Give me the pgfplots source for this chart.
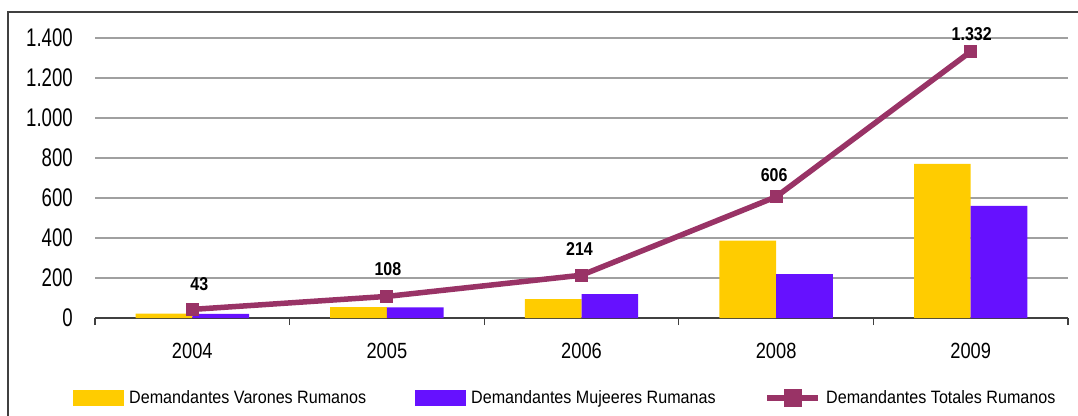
\documentclass[border=0pt]{standalone}
\usepackage{fontspec}
\usepackage{pgfplots}
\pgfplotsset{compat=1.18}
\setmainfont{Liberation Sans}
\newfontfamily\yf{Liberation Sans}[FakeStretch=0.73]
\newfontfamily\xf{Liberation Sans}[FakeStretch=0.83]
\newfontfamily\lf{Liberation Sans}[FakeStretch=0.90]
\newfontfamily\df{Liberation Sans}[FakeStretch=0.86]
\newcommand\yfont{\yf\fontsize{25.5}{30}\selectfont}
\newcommand\xfont{\xf\fontsize{22}{26}\selectfont}
\newcommand\lfont{\lf\fontsize{17.9}{21}\selectfont}
\newcommand\dfont{\df\bfseries\fontsize{18.6}{22}\selectfont}

\definecolor{cyel}{HTML}{FFCC00}
\definecolor{cpur}{HTML}{6611FF}
\definecolor{cline}{HTML}{993366}
\definecolor{cgrid}{HTML}{A0A0A0}
\definecolor{cframe}{HTML}{404040}

% year index, men, women
\pgfplotstableread{
x men women
0 22 21
1 55 53
2 95 119
3 387 219
4 771 561
}\bars
% year index, total, label offsets
\pgfplotstableread{
x total dx dy
0 43 7 19
1 108 1 21
2 214 -2 20
3 606 -2 15
4 1332 1 11
}\totals

\begin{document}
\begin{tikzpicture}
\useasboundingbox (0pt,0pt) rectangle (1078pt,415pt);
\begin{axis}[
  scale only axis,
  width=973pt, height=280pt,
  at={(95pt,97pt)}, anchor=south west,
  xmin=-0.5, xmax=4.5,
  ymin=0, ymax=1400,
  axis x line=bottom,
  axis y line=left,
  y axis line style={draw=none},
  x axis line style={-, draw=cframe, line width=1.3pt},
  xtick={0,...,4},
  xticklabels={2004,2005,2006,2008,2009},
  minor xtick={-0.5,0.5,...,4.5},
  major tick length=0pt,
  minor tick length=7pt,
  tick align=outside,
  minor tick style={draw=cframe, line width=1.2pt},
  ytick={0,200,...,1400},
  ymajorgrids,
  grid style={draw=cgrid, line width=1.6pt},
  /pgf/number format/assume math mode=true,
  /pgf/number format/1000 sep={.},
  yticklabel style={font=\yfont, anchor=east, inner sep=0pt, xshift=-22pt},
  xticklabel style={font=\xfont, anchor=north, inner sep=0pt, yshift=-25pt},
  legend columns=3,
  legend style={at={(axis description cs:-0.0226,-0.2857)}, anchor=west,
    draw=none, fill=none, font=\lfont, inner sep=0pt,
    /tikz/every even column/.append style={column sep=47pt},
    /tikz/every odd column/.append style={column sep=3pt}},
]
\addplot[ybar, bar width=56.7pt, bar shift=-28.35pt, fill=cyel, draw=none,
  legend image code/.code={\fill[cyel] (0pt,-7.5pt) rectangle (51pt,7.5pt);}]
  table[x=x, y=men] {\bars};
\addlegendentry{Demandantes Varones Rumanos}
\addplot[ybar, bar width=56.7pt, bar shift=28.35pt, fill=cpur, draw=none,
  legend image code/.code={\fill[cpur] (0pt,-7.5pt) rectangle (51pt,7.5pt);}]
  table[x=x, y=women] {\bars};
\addlegendentry{Demandantes Mujeeres Rumanas}
\addplot[cline, line width=5.5pt, mark=square*, mark size=6pt,
  mark options={solid, fill=cline, line width=0pt},
  nodes near coords, point meta=explicit,
  visualization depends on={\thisrow{dx}\as\dx},
  visualization depends on={\thisrow{dy}\as\dy},
  every node near coord/.append style={font=\dfont, text=black, anchor=south,
    inner sep=0pt, xshift=\dx pt, yshift=\dy pt},
  legend image code/.code={
    \draw[cline, line width=5.5pt] (0pt,0pt) -- (51pt,0pt);
    \fill[cline] (19.5pt,-6pt) rectangle (31.5pt,6pt);}]
  table[x=x, y=total, meta=total] {\totals};
\addlegendentry{Demandantes Totales Rumanos}
\end{axis}
\draw[cframe, line width=1.5pt] (8pt,-20pt) -- (8pt,403pt) -- (1100pt,403pt);
\end{tikzpicture}
\end{document}
